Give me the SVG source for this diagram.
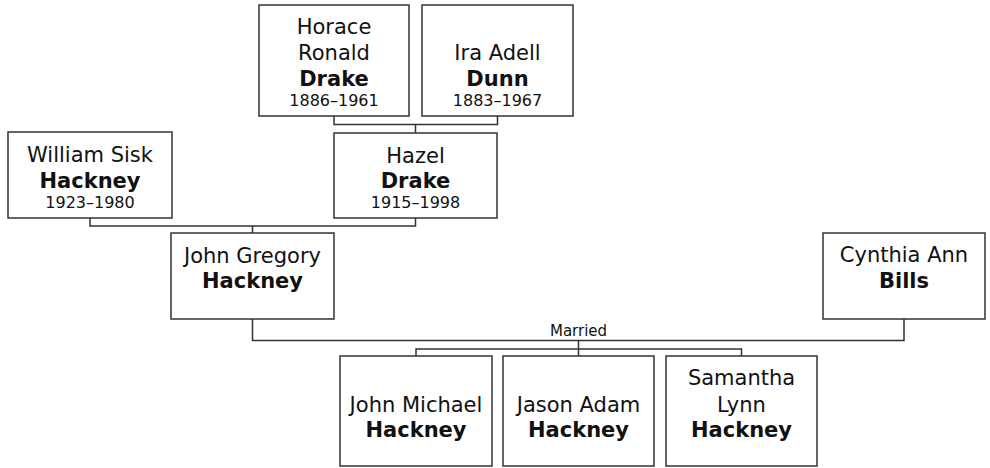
<svg xmlns="http://www.w3.org/2000/svg" width="990" height="468" viewBox="0 0 990 468">
<style>
.box{fill:#fff;stroke:#333;stroke-width:1.5}
.ln{fill:none;stroke:#333;stroke-width:1.5}
text{font-family:"DejaVu Sans",Verdana,sans-serif;fill:#111;text-anchor:middle}
.n{font-size:21px}
.b{font-size:21px;font-weight:bold}
.d{font-size:16px}
.m{font-size:15px}
</style>
<rect width="990" height="468" fill="#fff"/>
<g id="connectors">
<path class="ln" d="M334,116V124.5H497.5V116M415.5,124.5V133"/>
<path class="ln" d="M90,218V226H415.5V218M252.5,226V233"/>
<path class="ln" d="M252.5,319V340.5H904V319"/>
<path class="ln" d="M578.5,340.5V356M416,356V349H741.5V356"/>
<text class="m" x="578.5" y="336">Married</text>
</g>
<g id="horace">
<rect class="box" x="259" y="5" width="150" height="111"/>
<text class="n" x="334" y="34">Horace</text>
<text class="n" x="334" y="60">Ronald</text>
<text class="b" x="334" y="86">Drake</text>
<text class="d" x="334" y="106">1886–1961</text>
</g>
<g id="ira">
<rect class="box" x="422" y="5" width="151" height="111"/>
<text class="n" x="497.5" y="60">Ira Adell</text>
<text class="b" x="497.5" y="86">Dunn</text>
<text class="d" x="497.5" y="106">1883–1967</text>
</g>
<g id="hazel">
<rect class="box" x="334" y="133" width="163" height="85"/>
<text class="n" x="415.5" y="163">Hazel</text>
<text class="b" x="415.5" y="188">Drake</text>
<text class="d" x="415.5" y="208">1915–1998</text>
</g>
<g id="william">
<rect class="box" x="8" y="132" width="164" height="86"/>
<text class="n" x="90" y="162">William Sisk</text>
<text class="b" x="90" y="188">Hackney</text>
<text class="d" x="90" y="208">1923–1980</text>
</g>
<g id="johngregory">
<rect class="box" x="171" y="233" width="163" height="86"/>
<text class="n" x="252.5" y="263">John Gregory</text>
<text class="b" x="252.5" y="288">Hackney</text>
</g>
<g id="cynthia">
<rect class="box" x="823" y="233" width="162" height="86"/>
<text class="n" x="904" y="262">Cynthia Ann</text>
<text class="b" x="904" y="288">Bills</text>
</g>
<g id="johnmichael">
<rect class="box" x="340" y="356" width="152" height="110"/>
<text class="n" x="416" y="412">John Michael</text>
<text class="b" x="416" y="437">Hackney</text>
</g>
<g id="jason">
<rect class="box" x="503" y="356" width="151" height="110"/>
<text class="n" x="578.5" y="412">Jason Adam</text>
<text class="b" x="578.5" y="437">Hackney</text>
</g>
<g id="samantha">
<rect class="box" x="666" y="356" width="151" height="110"/>
<text class="n" x="741.5" y="385">Samantha</text>
<text class="n" x="741.5" y="412">Lynn</text>
<text class="b" x="741.5" y="437">Hackney</text>
</g>
</svg>
